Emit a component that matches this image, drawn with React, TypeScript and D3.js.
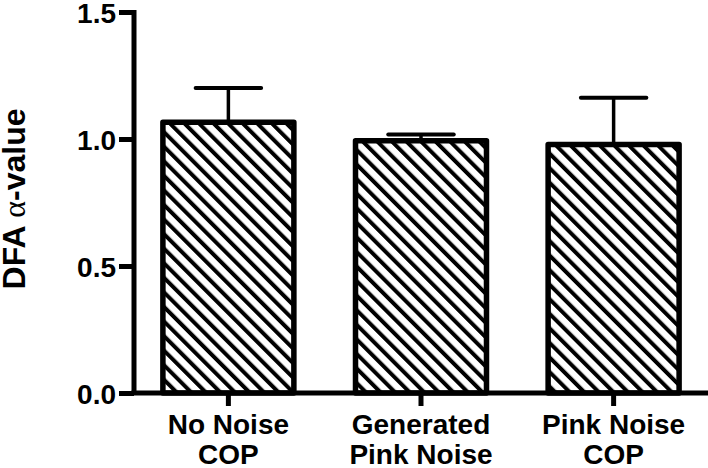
import React, { useRef, useEffect } from 'react';
import * as d3 from 'd3';

const categories = ['No Noise|COP', 'Generated|Pink Noise', 'Pink Noise|COP'];
const means = [1.066, 0.993, 0.978];
const sems = [0.135, 0.025, 0.184];
const yTicks = [0.0, 0.5, 1.0, 1.5];

const W = 708;
const H = 468;

const App = () => {
  const svgRef = useRef(null);

  useEffect(() => {
    const svg = d3.select(svgRef.current);
    svg.selectAll('*').remove();

    const x0 = 134;
    const yBase = 393;
    const font = '"Liberation Sans", Arial, sans-serif';

    const y = d3.scaleLinear().domain([0, 1.5]).range([yBase, 12]);
    const x = d3
      .scaleBand()
      .domain(categories)
      .range([x0, W])
      .paddingInner(0.32)
      .paddingOuter(0.15);

    const defs = svg.append('defs');
    const pat = defs
      .append('pattern')
      .attr('id', 'hatch')
      .attr('patternUnits', 'userSpaceOnUse')
      .attr('width', 10.3)
      .attr('height', 10.3)
      .attr('patternTransform', 'rotate(-45)');
    pat.append('rect').attr('width', 10.3).attr('height', 10.3).attr('fill', '#fff');
    pat
      .append('line')
      .attr('x1', 2)
      .attr('x2', 2)
      .attr('y1', 0)
      .attr('y2', 10.3)
      .attr('stroke', '#000')
      .attr('stroke-width', 4);

    const data = categories.map((c, i) => ({ c, m: means[i], e: sems[i] }));

    // error bars (upper only)
    svg
      .selectAll('line.err')
      .data(data)
      .join('line')
      .attr('class', 'err')
      .attr('x1', d => x(d.c) + x.bandwidth() / 2)
      .attr('x2', d => x(d.c) + x.bandwidth() / 2)
      .attr('y1', d => y(d.m))
      .attr('y2', d => y(d.m + d.e))
      .attr('stroke', '#000')
      .attr('stroke-width', 3.5);

    svg
      .selectAll('line.cap')
      .data(data)
      .join('line')
      .attr('class', 'cap')
      .attr('x1', d => x(d.c) + x.bandwidth() / 2 - x.bandwidth() / 4)
      .attr('x2', d => x(d.c) + x.bandwidth() / 2 + x.bandwidth() / 4)
      .attr('y1', d => y(d.m + d.e))
      .attr('y2', d => y(d.m + d.e))
      .attr('stroke', '#000')
      .attr('stroke-width', 4)
      .attr('stroke-linecap', 'round');

    svg
      .selectAll('rect.bar')
      .data(data)
      .join('rect')
      .attr('class', 'bar')
      .attr('x', d => x(d.c))
      .attr('width', x.bandwidth())
      .attr('y', d => y(d.m))
      .attr('height', d => yBase - y(d.m))
      .attr('fill', 'url(#hatch)')
      .attr('stroke', '#000')
      .attr('stroke-width', 5.5)
      .attr('stroke-linejoin', 'round');

    // y axis
    const yAxis = svg
      .append('g')
      .attr('transform', `translate(${x0},0)`)
      .call(
        d3
          .axisLeft(y)
          .tickValues(yTicks)
          .tickSize(15)
          .tickPadding(3)
          .tickFormat(d3.format('.1f'))
      );
    yAxis.select('.domain').attr('stroke-width', 5).attr('d', `M0,${y(1.5) - 2}V${yBase}`);
    yAxis.selectAll('.tick line').attr('stroke-width', 5);
    yAxis
      .selectAll('.tick text')
      .attr('font-family', font)
      .attr('font-weight', 'bold')
      .attr('font-size', 28)
      .attr('dy', '0.36em')
      .attr('fill', '#000');

    // x axis
    const xAxis = svg
      .append('g')
      .attr('transform', `translate(0,${yBase})`)
      .call(d3.axisBottom(x).tickSize(13).tickFormat(() => ''));
    xAxis.select('.domain').attr('stroke-width', 5).attr('d', `M${x0 - 2.5},0H${W}`);
    xAxis.selectAll('.tick line').attr('stroke-width', 5);

    const labels = svg
      .selectAll('text.xl')
      .data(categories)
      .join('text')
      .attr('class', 'xl')
      .attr('text-anchor', 'middle')
      .attr('font-family', font)
      .attr('font-weight', 'bold')
      .attr('font-size', 28)
      .attr('fill', '#000');
    labels
      .selectAll('tspan')
      .data(d => d.split('|').map(t => ({ t, c: d })))
      .join('tspan')
      .attr('x', d => x(d.c) + x.bandwidth() / 2)
      .attr('y', (d, i) => 434 + i * 30)
      .text(d => d.t);

    // y axis title
    const title = svg
      .append('text')
      .attr('transform', 'translate(25,199) rotate(-90)')
      .attr('text-anchor', 'middle')
      .attr('font-family', font)
      .attr('font-weight', 'bold')
      .attr('font-size', 32)
      .attr('fill', '#000');
    title.append('tspan').text('DFA ');
    title
      .append('tspan')
      .attr('font-family', '"Liberation Serif", "Times New Roman", serif')
      .attr('font-weight', 'normal')
      .text('α');
    title.append('tspan').text('-value');
  }, []);

  return (
    <svg
      ref={svgRef}
      width={W}
      height={H}
      style={{ position: 'absolute', left: 0, top: 0, background: '#fff' }}
    ></svg>
  );
};

export default App;
